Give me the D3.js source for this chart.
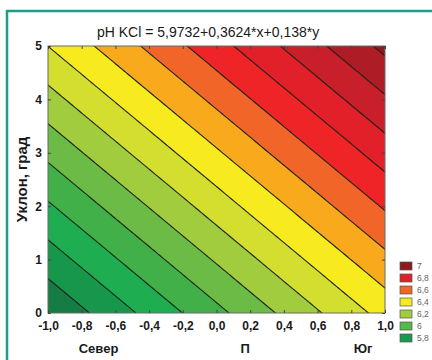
<!DOCTYPE html>
<html><head><meta charset="utf-8">
<script src="https://cdn.jsdelivr.net/npm/d3@7"></script>
<style>
body{margin:0;background:#fff}
svg{display:block}
text{font-family:"Liberation Sans",Arial,sans-serif}
</style>
</head><body>
<svg id="chart" width="432" height="360"></svg>
<script>
// Regression surface: pH KCl = b0 + bx*x + by*y
const titleText = "pH KCl = 5,9732+0,3624*x+0,138*y";
const coefficients = [5.9732, 0.3624, 0.138];

// Contour levels and band fills (band i lies below levels[i], last band above the top level)
const levels = [5.7, 5.8, 5.9, 6.0, 6.1, 6.2, 6.3, 6.4, 6.5, 6.6, 6.7, 6.8, 6.9, 7.0];
const bandColors = ["#147c44", "#17974b", "#1ead50", "#42b049", "#6cbb46", "#a0cc3e",
  "#d3de2f", "#f7ea1f", "#f8a91c", "#f16528", "#ee2427", "#e2202a", "#c81f2a", "#ae1c25", "#8c1a1f"];

// Legend entries
const legendLabels = ["7", "6,8", "6,6", "6,4", "6,2", "6", "5,8"];
const legendColors = ["#8c1a1f", "#e2202a", "#f16528", "#f7ea1f", "#a0cc3e", "#55b848", "#1a9a4c"];

// Axes
const xDomain = [-1, 1];
const yDomain = [0, 5];
const xTicks = [-1, -0.8, -0.6, -0.4, -0.2, 0, 0.2, 0.4, 0.6, 0.8, 1];
const yTicks = [0, 1, 2, 3, 4, 5];
const xGroupLabels = ["Север", "П", "Юг"];
const xGroupAt = [-0.7, 0.17, 0.87];
const yAxisTitle = "Уклон, град";

const svg = d3.select("#chart");
const fmt = v => (v === 0 ? "0,0" : d3.format(".1f")(v).replace(".", ",").replace("−", "-"));

// outer frame
svg.append("rect").attr("x", 7).attr("y", 11).attr("width", 480).attr("height", 420)
  .attr("fill", "none").attr("stroke", "#1f9c8b").attr("stroke-width", 2.5);

const L = 48, R = 385, T = 46, B = 313;
const x = d3.scaleLinear(xDomain, [L, R]);
const y = d3.scaleLinear(yDomain, [B, T]);

// sample the surface on a grid
const nx = 81, ny = 81;
const sx = (xDomain[1] - xDomain[0]) / (nx - 1);
const sy = (yDomain[1] - yDomain[0]) / (ny - 1);
const values = new Array(nx * ny);
for (let j = 0; j < ny; j++) {
  const yv = yDomain[1] - j * sy;
  for (let i = 0; i < nx; i++) {
    const xv = xDomain[0] + i * sx;
    values[j * nx + i] = coefficients[0] + coefficients[1] * xv + coefficients[2] * yv;
  }
}
const contours = d3.contours().size([nx, ny]).thresholds(levels)(values);

const proj = d3.geoTransform({
  point(gx, gy) {
    this.stream.point(x(xDomain[0] + (gx - 0.5) * sx), y(yDomain[1] - (gy - 0.5) * sy));
  }
});
const path = d3.geoPath(proj);

svg.append("clipPath").attr("id", "plotClip")
  .append("rect").attr("x", L).attr("y", T).attr("width", R - L).attr("height", B - T);

const plot = svg.append("g").attr("clip-path", "url(#plotClip)");
plot.append("rect").attr("x", L).attr("y", T).attr("width", R - L).attr("height", B - T)
  .attr("fill", bandColors[0]);
plot.selectAll("path.band").data(contours).join("path")
  .attr("class", "band")
  .attr("d", path)
  .attr("fill", (d, i) => bandColors[i + 1]);
plot.selectAll("path.line").data(contours).join("path")
  .attr("class", "line")
  .attr("d", path)
  .attr("fill", "none")
  .attr("stroke", "#1d2316")
  .attr("stroke-width", 1.1);

// plot border
svg.append("rect").attr("x", L).attr("y", T).attr("width", R - L).attr("height", B - T)
  .attr("fill", "none").attr("stroke", "#6b6b6b").attr("stroke-width", 1);

// axes
const xAxis = d3.axisBottom(x).tickValues(xTicks).tickFormat(fmt).tickSize(-3).tickPadding(8);
const gx = svg.append("g").attr("transform", `translate(0,${B})`).call(xAxis);
const yAxis = d3.axisLeft(y).tickValues(yTicks).tickFormat(d => String(d)).tickSize(-3).tickPadding(6);
const gy = svg.append("g").attr("transform", `translate(${L},0)`).call(yAxis);
[gx, gy].forEach(g => {
  g.select(".domain").remove();
  g.selectAll(".tick line").attr("stroke", "#444");
  g.selectAll("text").attr("font-family", "'Liberation Sans',Arial,sans-serif")
    .attr("font-size", 12).attr("font-weight", "bold").attr("fill", "#1a1a1a");
});
// ticks on top and right edges
svg.append("g").attr("transform", `translate(0,${T})`)
  .call(d3.axisTop(x).tickValues(xTicks).tickFormat("").tickSize(-3))
  .call(g => { g.select(".domain").remove(); g.selectAll("line").attr("stroke", "#444"); });
svg.append("g").attr("transform", `translate(${R},0)`)
  .call(d3.axisRight(y).tickValues(yTicks).tickFormat("").tickSize(-3))
  .call(g => { g.select(".domain").remove(); g.selectAll("line").attr("stroke", "#444"); });

// title
svg.append("text").attr("x", 97).attr("y", 37).attr("text-anchor", "start")
  .attr("font-size", 14).attr("fill", "#1a1a1a").text(titleText);

// axis titles
svg.selectAll("text.xg").data(xGroupLabels).join("text")
  .attr("class", "xg")
  .attr("x", (d, i) => x(xGroupAt[i])).attr("y", 353)
  .attr("text-anchor", "middle").attr("font-size", 13).attr("font-weight", "bold")
  .attr("fill", "#1a1a1a").text(d => d);
svg.append("text").attr("transform", `translate(27,${(T + B) / 2}) rotate(-90)`)
  .attr("text-anchor", "middle").attr("font-size", 15).attr("font-weight", "bold")
  .attr("fill", "#1a1a1a").text(yAxisTitle);

// legend
const lg = svg.append("g");
legendLabels.forEach((lab, i) => {
  const cy = 266 + i * 12;
  lg.append("rect").attr("x", 400).attr("y", cy - 4).attr("width", 12).attr("height", 8)
    .attr("fill", legendColors[i]).attr("stroke", "#555").attr("stroke-width", 0.7);
  lg.append("text").attr("x", 417).attr("y", cy + 3).attr("font-size", 8.5)
    .attr("fill", "#666").text(lab);
});
</script>
</body></html>
